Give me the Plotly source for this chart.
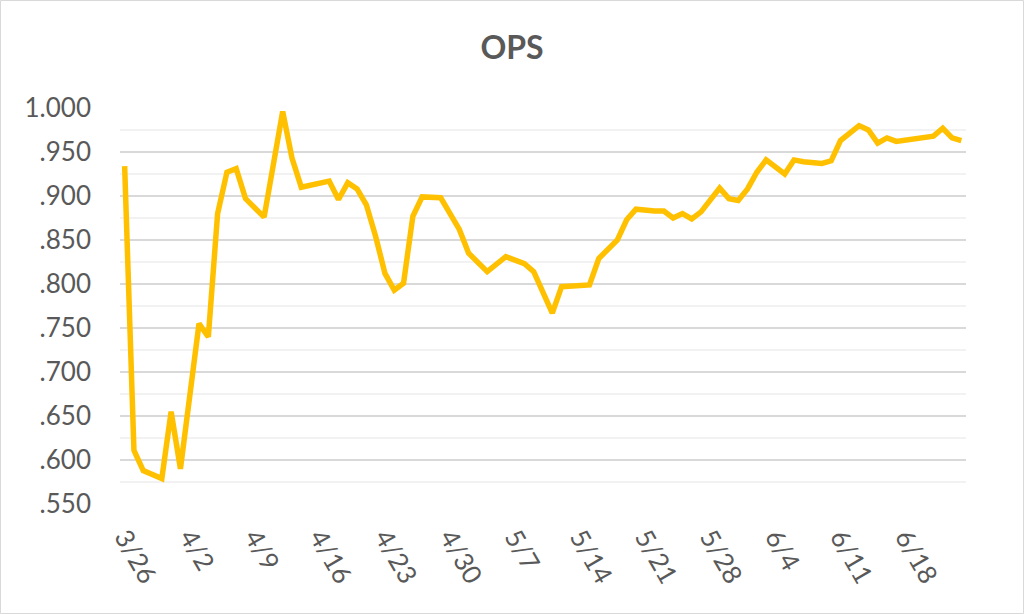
import plotly.graph_objects as go

dates = [
    "2021-03-26", "2021-03-27", "2021-03-28", "2021-03-30", "2021-03-31", "2021-04-01",
    "2021-04-03", "2021-04-04", "2021-04-05", "2021-04-06", "2021-04-07", "2021-04-08",
    "2021-04-10", "2021-04-12", "2021-04-13", "2021-04-14", "2021-04-17", "2021-04-18",
    "2021-04-19", "2021-04-20", "2021-04-21", "2021-04-22", "2021-04-23", "2021-04-24",
    "2021-04-25", "2021-04-26", "2021-04-27", "2021-04-29", "2021-04-30", "2021-05-01",
    "2021-05-02", "2021-05-04", "2021-05-06", "2021-05-08", "2021-05-09", "2021-05-11",
    "2021-05-12", "2021-05-15", "2021-05-16", "2021-05-18", "2021-05-19", "2021-05-20",
    "2021-05-22", "2021-05-23", "2021-05-24", "2021-05-25", "2021-05-26", "2021-05-27",
    "2021-05-29", "2021-05-30", "2021-05-31", "2021-06-01", "2021-06-02", "2021-06-03",
    "2021-06-05", "2021-06-06", "2021-06-07", "2021-06-09", "2021-06-10", "2021-06-11",
    "2021-06-13", "2021-06-14", "2021-06-15", "2021-06-16", "2021-06-17", "2021-06-21",
    "2021-06-22", "2021-06-23", "2021-06-24",
]

ops = [
    0.934, 0.611, 0.588, 0.579, 0.655, 0.590,
    0.755, 0.740, 0.880, 0.927, 0.931, 0.897,
    0.876, 0.996, 0.943, 0.910, 0.917, 0.896,
    0.915, 0.908, 0.890, 0.854, 0.812, 0.793,
    0.801, 0.877, 0.899, 0.898, 0.880, 0.862,
    0.835, 0.814, 0.831, 0.823, 0.814, 0.767,
    0.797, 0.799, 0.829, 0.850, 0.873, 0.885,
    0.883, 0.883, 0.875, 0.880, 0.874, 0.882,
    0.909, 0.897, 0.895, 0.908, 0.927, 0.941,
    0.925, 0.941, 0.939, 0.937, 0.940, 0.963,
    0.980, 0.975, 0.960, 0.966, 0.962, 0.968,
    0.977, 0.966, 0.963,
]

x_tick_dates = [
    "2021-03-26", "2021-04-02", "2021-04-09", "2021-04-16", "2021-04-23", "2021-04-30",
    "2021-05-07", "2021-05-14", "2021-05-21", "2021-05-28", "2021-06-04", "2021-06-11",
    "2021-06-18",
]
x_tick_labels = ["3/26", "4/2", "4/9", "4/16", "4/23", "4/30", "5/7", "5/14",
                 "5/21", "5/28", "6/4", "6/11", "6/18"]

y_tick_values = [0.55, 0.60, 0.65, 0.70, 0.75, 0.80, 0.85, 0.90, 0.95, 1.00]
y_tick_labels = [".550", ".600", ".650", ".700", ".750", ".800", ".850", ".900", ".950", "1.000"]

TEXT = "#595959"
FONT = "Lato"

fig = go.Figure()
fig.add_trace(go.Scatter(
    x=dates, y=ops, mode="lines",
    line=dict(color="#FFC000", width=5.5),
    hoverinfo="x+y",
))

W, H = 1024, 614
ML, MR, MT, MB = 120, 58, 108, 110
PW, PH = W - ML - MR, H - MT - MB

fig.update_layout(
    width=W, height=H,
    margin=dict(l=ML, r=MR, t=MT, b=MB),
    paper_bgcolor="white", plot_bgcolor="white",
    showlegend=False,
    font=dict(family=FONT, color=TEXT, size=26),
    title=dict(text="<b>OPS</b>", x=0.5, xanchor="center", xref="container",
               y=1 - 48 / H, yanchor="middle", yref="container",
               font=dict(family=FONT, size=32, color=TEXT)),
    xaxis=dict(
        type="date",
        range=["2021-03-25 12:00", "2021-06-24 12:00"],
        tickmode="array", tickvals=x_tick_dates, ticktext=x_tick_labels,
        tickangle=60, showgrid=False, zeroline=False, showline=False,
        ticks="", ticklabelstandoff=12,
        tickfont=dict(family=FONT, size=26, color=TEXT),
    ),
    yaxis=dict(
        range=[0.55, 1.0],
        tickmode="array", tickvals=y_tick_values, ticktext=y_tick_labels,
        showgrid=True, gridcolor="#d9d9d9", gridwidth=1.5,
        zeroline=False, showline=False, ticks="", ticklabelstandoff=28,
        tickfont=dict(family=FONT, size=26, color=TEXT),
        minor=dict(dtick=0.025, tick0=0.55, showgrid=True, gridcolor="#f2f2f2", gridwidth=1.5),
    ),
    shapes=[dict(
        type="rect", xref="paper", yref="paper", layer="below",
        x0=(0.5 - ML) / PW, x1=(W - 0.5 - ML) / PW,
        y0=-(MB - 0.5) / PH, y1=1 + (MT - 0.5) / PH,
        line=dict(color="#d9d9d9", width=1), fillcolor="rgba(0,0,0,0)",
    )],
)

fig.write_html("out.html")
